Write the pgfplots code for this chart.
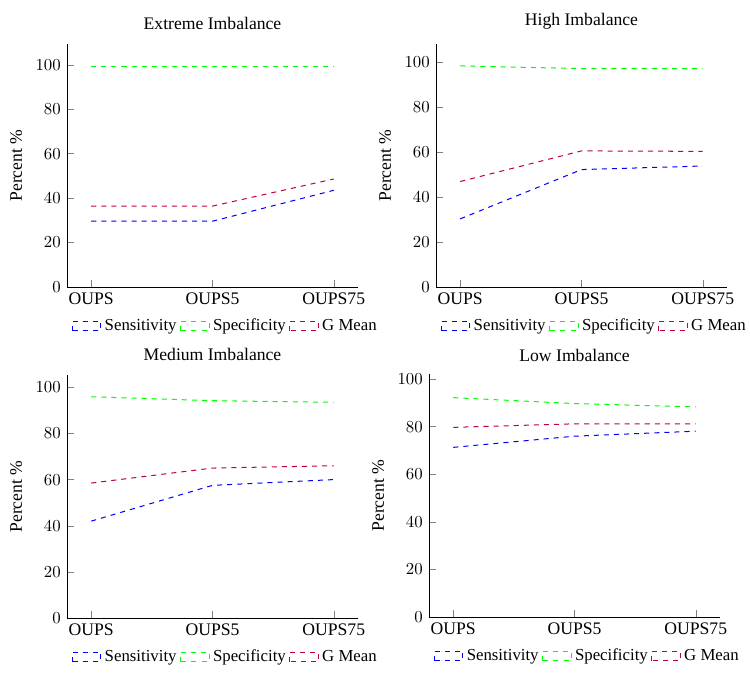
\documentclass[border=0pt]{standalone}
\usepackage{pgfplots}
\pgfplotsset{compat=1.18}
\usepackage{fontspec}
\setmainfont{Liberation Serif}

\definecolor{gmean}{rgb}{0.75,0,0.25}

\pgfplotsset{
  every axis title shift=0pt,
  imb/.style={
    scale only axis,
    width=173.2pt, height=144.6pt,
    axis lines*=left,
    enlargelimits=false,
    xmin=-0.2, xmax=2.2, ymin=0,
    xtick={0,1,2},
    xticklabels={OUPS,OUPS5,OUPS75},
    ytick={0,20,40,60,80,100},
    yticklabel style={font=\fontsize{10}{12}\selectfont},
    ylabel={Percent \%},
    ylabel style={at={(axis description cs:-0.175,0.5)}, anchor=center},
    legend columns=3,
    legend style={draw=none, fill=none, at={(0.5,-0.15)}, anchor=north,
      xshift=8pt, yshift=7pt, font=\fontsize{10}{12}\selectfont},
    legend image code/.code={\draw[#1] (0cm,-0.1cm) rectangle (0.6cm,0.1cm);},
    every axis plot/.append style={dashed, line width=0.6pt},
  },
}

\begin{document}
\fontsize{10.5}{12.6}\selectfont
\begin{tikzpicture}
\useasboundingbox (0,0) rectangle (446.43pt,-412.5pt);

% Extreme imbalance
\begin{axis}[imb, at={(39.88pt,-170.83pt)}, anchor=south west, ymax=109.3,
  title={Extreme Imbalance},
  title style={at={(axis description cs:0.5,1.062)}, anchor=base}]
\addplot[blue] coordinates {(0,29.6) (1,29.6) (2,43.5)};
\addplot[green] coordinates {(0,99.4) (1,99.4) (2,99.4)};
\addplot[gmean] coordinates {(0,36.4) (1,36.4) (2,48.6)};
\legend{Sensitivity,Specificity,G Mean}
\end{axis}

% High imbalance
\begin{axis}[imb, at={(259.52pt,-170.83pt)}, anchor=south west, ymax=108.0,
  title={High Imbalance},
  title style={at={(axis description cs:0.5,1.078)}, anchor=base}]
\addplot[blue] coordinates {(0,30.3) (1,52.2) (2,53.8)};
\addplot[green] coordinates {(0,98.3) (1,97.1) (2,97.1)};
\addplot[gmean] coordinates {(0,46.9) (1,60.5) (2,60.3)};
\legend{Sensitivity,Specificity,G Mean}
\end{axis}

% Medium imbalance
\begin{axis}[imb, at={(39.88pt,-367.86pt)}, anchor=south west, ymax=105.3,
  title={Medium Imbalance},
  title style={at={(axis description cs:0.5,1.062)}, anchor=base}]
\addplot[blue] coordinates {(0,42.0) (1,57.5) (2,60.0)};
\addplot[green] coordinates {(0,95.9) (1,94.2) (2,93.5)};
\addplot[gmean] coordinates {(0,58.5) (1,65.0) (2,66.0)};
\legend{Sensitivity,Specificity,G Mean}
\end{axis}

% Low imbalance
\begin{axis}[imb, at={(255.36pt,-367.26pt)}, anchor=south west, ymax=102.1,
  title={Low Imbalance},
  title style={at={(axis description cs:0.5,1.052)}, anchor=base}]
\addplot[blue] coordinates {(0,71.3) (1,76.0) (2,78.1)};
\addplot[green] coordinates {(0,92.2) (1,89.7) (2,88.3)};
\addplot[gmean] coordinates {(0,79.7) (1,81.2) (2,81.2)};
\legend{Sensitivity,Specificity,G Mean}
\end{axis}
\end{tikzpicture}
\end{document}
